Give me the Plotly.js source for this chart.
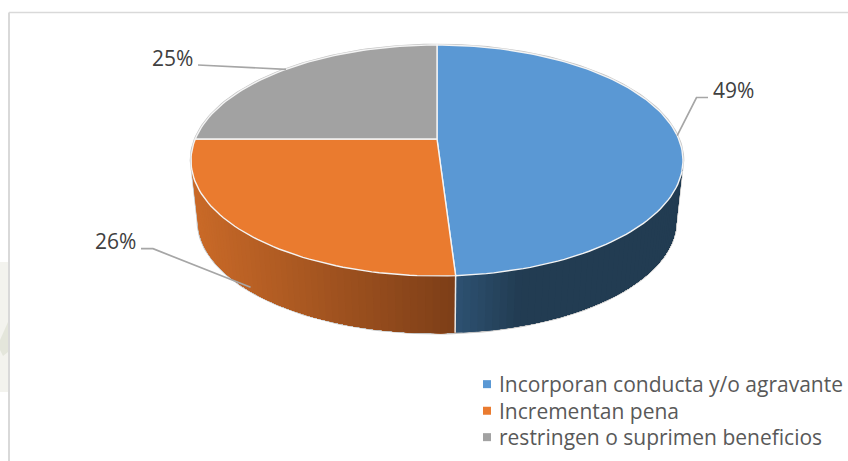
<!DOCTYPE html>
<html>
<head>
<meta charset="utf-8">
<script src="https://cdn.plot.ly/plotly-3.0.1.min.js"></script>
<style>html,body{margin:0;padding:0;background:#fff}</style>
</head>
<body>
<div id="chart" style="width:848px;height:461px"></div>
<script>
// Chart data
const categories = ['Incorporan conducta y/o agravante', 'Incrementan pena', 'restringen o suprimen beneficios'];
const shares = [49, 26, 25];
const topColors = ['#5a98d4', '#ea7b2f', '#a2a2a2'];

// Side wall shading: colour at the left and right end of each wall
const wallLeft = ['#2e5374', '#ca6a28', '#7c7c7c'];
const wallRight = ['#223c52', '#7e3f18', '#636363'];

// Perspective disc: centre, radii, tilt and wall depth in plot units
const disc = {cx: 437, cy: 139, bx: 241.7, by: 111.5, k: 0.186, shrink: 0.972, drop: 61};

// Data label placement
const labelPos = [[733, 89.5], [115, 241], [172, 57.5]];
const leaderElbow = [[[696.5, 97.5], [708, 97.5]], [[153, 248.7], [141, 248.7]], [[208, 65], [198, 65]]];
const leaderDepth = [0, 0.93, 0];

// Legend rows: top edge of each box in plot units
const legendTops = [364, 390.7, 417];

function project(deg, depth) {
  const t = deg * Math.PI / 180, u = Math.sin(t), v = Math.cos(t), w = 1 + disc.k * v;
  const x = disc.bx * u / w, y = -disc.by * v / w;
  const s = 1 + (disc.shrink - 1) * depth;
  return [disc.cx + x * s, disc.cy + y * s + disc.drop * depth];
}
function arc(a, b, depth) {
  const n = Math.max(2, Math.ceil(Math.abs(b - a) / 1.5)), pts = [];
  for (let i = 0; i <= n; i++) pts.push(project(a + (b - a) * i / n, depth));
  return pts;
}
function mixHex(a, b, f) {
  const p = h => [1, 3, 5].map(i => parseInt(h.substr(i, 2), 16));
  const A = p(a), B = p(b);
  return 'rgb(' + A.map((c, i) => Math.round(c + (B[i] - c) * f)).join(',') + ')';
}
function poly(pts, fillcolor, line) {
  return {
    type: 'scatter', mode: 'lines', x: pts.map(p => p[0]), y: pts.map(p => p[1]),
    fill: fillcolor ? 'toself' : 'none', fillcolor: fillcolor || undefined,
    line: line, hoverinfo: 'skip', showlegend: false
  };
}

const total = shares.reduce((a, b) => a + b, 0);
const bounds = [0];
shares.forEach((s, i) => bounds.push(bounds[i] + s / total * 360));

// The silhouette touches its widest points where v = -k
const edgeAngle = Math.acos(-disc.k) * 180 / Math.PI;
const visibleFrom = edgeAngle, visibleTo = 360 - edgeAngle;

const traces = [];

// Soft outline behind the whole body
const outline = arc(visibleFrom, visibleTo, 1).concat(arc(visibleTo, 360 + visibleFrom, 0));
outline.push(outline[0]);
traces.push(poly(outline, '#c4c4c4', {color: '#c4c4c4', width: 2.6}));

// Walls: each strip reaches the far end of its slice and the next one paints
// over it, which keeps the shading free of seams
shares.forEach((s, i) => {
  const a = Math.max(bounds[i], visibleFrom), b = Math.min(bounds[i + 1], visibleTo);
  if (b <= a) return;
  const steps = Math.ceil((b - a) / 1.5);
  const xa = project(b, 0)[0], xb = project(a, 0)[0];
  for (let j = steps - 1; j >= 0; j--) {
    const p = a + (b - a) * j / steps;
    const pts = arc(a, p + (b - a) / steps, 0).concat(arc(p + (b - a) / steps, a, 1));
    pts.push(pts[0]);
    const f = (project(p, 0)[0] - xa) / (xb - xa);
    const c = mixHex(wallLeft[i], wallRight[i], i === 0 ? Math.min(1, f / 0.3) : f);
    traces.push(poly(pts, c, {color: c, width: 0}));
  }
});

// Seams between the walls
bounds.forEach(b => {
  if (b > visibleFrom && b < visibleTo) {
    traces.push(poly([project(b, 0), project(b, 1)], null, {color: '#e8e8e8', width: 1.5}));
  }
});

// Top faces
shares.forEach((s, i) => {
  const pts = [[disc.cx, disc.cy]].concat(arc(bounds[i], bounds[i + 1], 0));
  pts.push([disc.cx, disc.cy]);
  traces.push(poly(pts, topColors[i], {color: '#f4f4f4', width: 1.4}));
});

// Leader lines run from the rim of each slice to its label
shares.forEach((s, i) => {
  const mid = (bounds[i] + bounds[i + 1]) / 2;
  const pts = [project(mid, leaderDepth[i])].concat(leaderElbow[i]);
  traces.push(poly(pts, null, {color: '#a6a6a6', width: 1.7}));
});

// Legend entries, one legend box per row to set the row spacing
const legendBoxes = {};
categories.forEach((name, i) => {
  const id = i === 0 ? 'legend' : 'legend' + (i + 1);
  traces.push({
    type: 'scatter', mode: 'markers', x: [null], y: [null], name: name, legend: id,
    marker: {symbol: 'square', size: 8, color: topColors[i]}, hoverinfo: 'skip'
  });
  legendBoxes[id] = {
    x: 467 / 848, y: 1 - legendTops[i] / 461, xanchor: 'left', yanchor: 'top',
    bgcolor: 'rgba(0,0,0,0)', indentation: -8,
    font: {family: '"Open Sans", sans-serif', size: 21, color: '#595959'}
  };
});

const annotations = shares.map((s, i) => ({
  x: labelPos[i][0], y: labelPos[i][1], xref: 'x', yref: 'y', text: s + '%', showarrow: false,
  font: {family: '"Open Sans", sans-serif', size: 21, color: '#404040'}
}));

// Chart frame, open to the right and to the bottom; a pale page mark shows left of it
const shapes = [
  {type: 'path', xref: 'x', yref: 'y', path: 'M0,262 L8,262 L8,392 L0,392 Z', fillcolor: '#f3f3ee', line: {width: 0}, layer: 'below'},
  {type: 'path', xref: 'x', yref: 'y', path: 'M8,322 L8,352 L3,356 L0,350 L0,340 Z', fillcolor: '#e4e6db', line: {width: 0}, layer: 'below'},
  {type: 'line', xref: 'x', yref: 'y', x0: 9, y0: 12.5, x1: 848, y1: 12.5, line: {color: '#d9d9d9', width: 1.5}},
  {type: 'line', xref: 'x', yref: 'y', x0: 9, y0: 12.5, x1: 9, y1: 461, line: {color: '#d9d9d9', width: 2}}
];

const layout = Object.assign({
  width: 848, height: 461,
  margin: {l: 0, r: 0, t: 0, b: 0},
  paper_bgcolor: '#ffffff', plot_bgcolor: 'rgba(0,0,0,0)',
  xaxis: {range: [0, 848], visible: false, fixedrange: true},
  yaxis: {range: [461, 0], visible: false, fixedrange: true},
  showlegend: true,
  annotations: annotations,
  shapes: shapes
}, legendBoxes);

Plotly.newPlot('chart', traces, layout, {displayModeBar: false, staticPlot: true}).then(() => {
  // Bring the legend swatches closer to their labels
  document.querySelectorAll('.legendsymbols').forEach(g => g.setAttribute('transform', 'translate(8,0)'));
});
</script>
</body>
</html>
